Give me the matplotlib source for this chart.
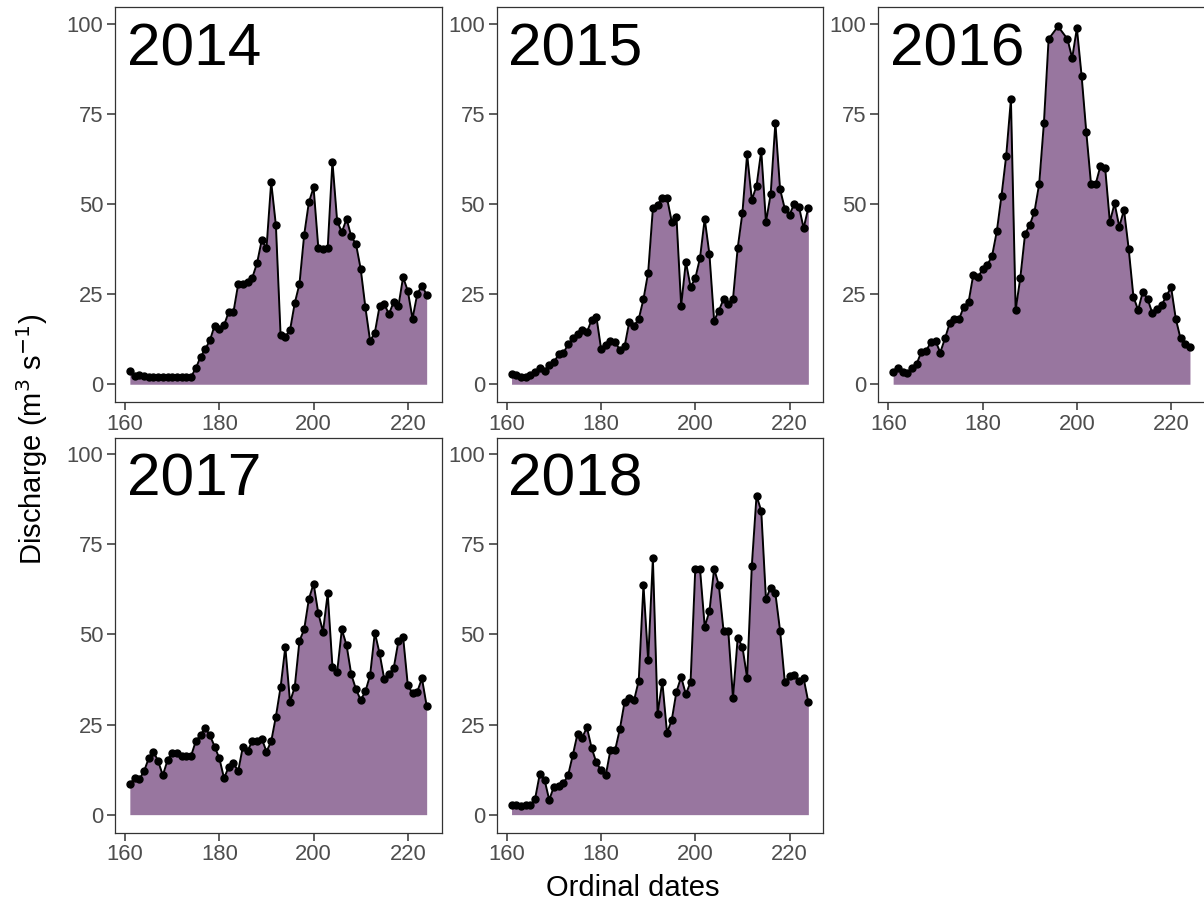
import numpy as np
import matplotlib
matplotlib.use("Agg")
import matplotlib.pyplot as plt

plt.rcParams["font.family"] = ["Liberation Sans", "DejaVu Sans"]

# Ordinal dates shared by all seasons
days = list(range(161, 225))

# Daily discharge (m3/s) per season; None = no record that day
q2014 = [3.7, 2.3, 2.6, 2.3, 2.1, 1.9, 1.9, 2.1, 1.9, 1.9,
         1.9, 1.9, 1.9, 2.1, 4.4, 7.6, 9.7, 12.2, 16.3, 15.3,
         16.4, 20.1, 20.1, 27.8, 27.8, 28.5, 29.6, 33.6, 40.0, 37.7,
         56.1, 44.1, 13.6, 13.2, 15.0, 22.5, 27.8, 41.4, 50.5, 54.6,
         37.9, 37.6, 37.9, 61.8, 45.3, 42.2, 45.9, 41.0, 38.9, 32.0,
         21.3, 12.0, 14.3, 21.6, 22.2, 19.5, 22.8, 21.6, 29.7, 25.9,
         18.2, 25.0, 27.4, 24.8]
q2015 = [2.9, 2.5, 1.9, 1.9, 2.5, 3.5, 4.6, 3.8, 5.3, 6.1,
         8.3, 8.6, 11.1, 12.7, 14.0, 15.1, 14.4, 17.9, 18.8, 9.9,
         10.9, 12.1, 11.7, 9.5, 10.5, 17.4, 16.2, 18.1, 23.6, 31.0,
         48.8, 49.8, 51.7, 51.7, 45.1, 46.5, 21.8, 34.0, 27.0, 29.4,
         35.0, 45.9, 36.1, 17.6, 20.4, 23.6, 22.4, 23.6, 37.8, 47.5,
         63.8, 51.2, 55.0, 64.8, 45.0, 52.7, 72.6, 54.1, 48.7, 47.0,
         50.1, 49.3, 43.3, 49.0]
q2016 = [3.4, 4.4, 3.4, 3.2, 4.4, 5.7, 9.0, 9.3, 11.6, 12.0,
         8.8, 12.7, 16.9, 18.0, 18.1, 21.5, 22.7, 30.3, 29.7, 31.9,
         33.1, 35.6, 42.4, 52.3, 63.4, 79.1, 20.6, 29.6, 41.7, 44.2,
         47.9, 55.6, 72.5, 95.8, None, 99.3, None, 95.8, 90.5, 98.8,
         85.6, 69.9, 55.6, 55.6, 60.6, 60.0, 45.0, 50.2, 43.7, 48.4,
         37.5, 24.3, 20.6, 25.7, 23.7, 19.8, 20.8, 22.0, 24.5, 26.9,
         18.1, 12.7, 11.3, 10.2]
q2017 = [8.4, 10.2, 9.8, 12.0, 15.6, 17.5, 14.9, 10.9, 15.1, 17.2,
         17.2, 16.3, 16.3, 16.3, 20.4, 22.0, 24.1, 22.0, 18.9, 15.6,
         10.1, 13.3, 14.2, 12.1, 18.9, 17.7, 20.4, 20.4, 21.1, 17.5,
         20.3, 27.2, 35.4, 46.5, 31.3, 35.4, 48.2, 51.4, 59.8, 64.1,
         55.9, 50.8, 61.4, 41.1, 39.6, 51.4, 47.0, 38.9, 34.8, 31.8,
         34.2, 38.7, 50.5, 44.8, 37.6, 39.1, 40.6, 48.1, 49.3, 35.9,
         33.7, 34.1, 37.8, 30.2]
q2018 = [2.7, 2.7, 2.4, 2.6, 2.6, 4.4, 11.3, 9.7, 4.1, 7.8,
         8.0, 8.7, 10.9, 16.5, 22.4, 21.4, 24.2, 18.5, 14.5, 12.3,
         10.9, 18.0, 18.0, 23.8, 31.3, 32.4, 31.7, 37.2, 63.7, 42.8,
         71.1, 28.0, 36.9, 22.7, 26.2, 34.1, 38.2, 33.4, 36.8, 68.2,
         68.2, 52.2, 56.4, 68.2, 63.7, 51.0, 51.0, 32.4, 49.0, 46.6,
         38.0, 69.1, 88.5, 84.3, 59.8, 63.0, 61.4, 51.0, 36.8, 38.4,
         38.7, 37.0, 37.8, 31.2]

years = ["2014", "2015", "2016", "2017", "2018"]
series = [q2014, q2015, q2016, q2017, q2018]

x_ticks = [160, 180, 200, 220]
y_ticks = [0, 25, 50, 75, 100]

W, H = 1204, 907
fig = plt.figure(figsize=(W / 100, H / 100), dpi=100)

fill_col = "#98769f"
axis_col = "#333333"
tick_lab_col = "#4d4d4d"

col_left = [115.0, 496.7, 878.3]
row_top = [7.3, 437.7]
pw, ph = 326.5, 394.9

for i, (yr, q) in enumerate(zip(years, series)):
    r, c = divmod(i, 3)
    left = col_left[c] / W
    bottom = 1 - (row_top[r] + ph) / H
    ax = fig.add_axes([left, bottom, pw / W, ph / H])

    d = np.array([dd for dd, v in zip(days, q) if v is not None], float)
    v = np.array([vv for vv in q if vv is not None], float)

    ax.fill_between(d, 0, v, color=fill_col, lw=0, zorder=1)
    ax.plot(d, v, color="black", lw=1.4, zorder=2)
    ax.plot(d, v, "o", color="black", ms=5.0, zorder=3)

    ax.set_xlim(157.85, 227.15)
    ax.set_ylim(-4.98, 104.6)
    ax.set_xticks(x_ticks)
    ax.set_yticks(y_ticks)
    ax.tick_params(axis="both", labelsize=15.8, labelcolor=tick_lab_col,
                   color=axis_col, length=5.5, width=1.1, pad=3)
    for s in ax.spines.values():
        s.set_color(axis_col)
        s.set_linewidth(0.9)

    ax.text(160.3, 88.5, yr, fontsize=43.5, color="black",
            ha="left", va="baseline", zorder=4)

fig.text(633 / W, 1 - 888 / H, "Ordinal dates", fontsize=21,
         ha="center", va="center", color="black")
fig.text(32 / W, 1 - 439.5 / H, r"Discharge (m$^{3}$ s$^{-1}$)", fontsize=21,
         rotation=90, ha="center", va="center", color="black")

fig.savefig("out.png", dpi=100, facecolor="white")
